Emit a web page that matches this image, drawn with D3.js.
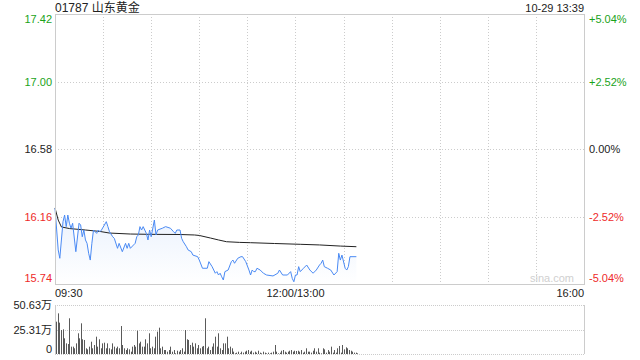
<!DOCTYPE html>
<html>
<head>
<meta charset="utf-8">
<script src="https://cdn.jsdelivr.net/npm/d3@7"></script>
<style>
  html, body { margin: 0; padding: 0; background: #fff; }
  svg text { font-family: Arial, "Liberation Sans", "Noto Sans CJK SC", sans-serif; }
</style>
</head>
<body>
<svg id="chart" width="640" height="360"></svg>
<script>
// quote info
var title = "01787 山东黄金";
var stamp = "10-29 13:39";
var prevClose = 16.58;
var priceTicks = [17.42, 17.00, 16.58, 16.16, 15.74];
var pctTicks = ["+5.04%", "+2.52%", "0.00%", "-2.52%", "-5.04%"];
var timeLabels = ["09:30", "12:00/13:00", "16:00"];
var volTicks = [50.63, 25.31, 0];
var volTickLabels = ["50.63万", "25.31万", "0"];

// minute price (minutes since 09:30, lunch removed)
var priceMin = [0,2,3,5,6,7,8,9,10,11,13,15,16,17,18,19,20,21,22,23,24,26,27,28,29,32,33,34,36,37,39,40,42,44,45,46,47,49,50,51,52,53,54,55,57,58,59,60,62,63,64,67,69,72,74,75,76,78,79,80,82,83,85,86,89,90,92,95,96,98,100,101,102,103,104,105,106,108,110,111,112,114,116,117,119,121,122,123,124,125,126,128,130,132,136,139,140,142,145,147,148,149,150,151,152,153,155,157,159,161,163,165,166,167,168,170,172,174,176,177,178,179,181,182,183,184,188];
var priceVal = [16.211,15.952,15.900,16.128,16.169,16.097,16.169,16.118,16.087,16.118,15.941,16.118,16.107,16.034,16.076,16.014,15.993,15.931,15.889,15.993,16.076,16.055,16.076,16.065,16.076,16.128,16.097,16.065,16.034,16.024,15.962,15.993,15.941,15.993,15.962,15.993,15.962,15.983,15.993,16.034,16.045,16.097,16.076,16.097,16.055,16.014,16.076,16.034,16.138,16.045,16.076,16.087,16.097,16.087,16.065,16.055,16.076,16.076,16.024,16.003,15.972,15.952,15.941,15.920,15.910,15.889,15.838,15.838,15.879,15.848,15.807,15.817,15.796,15.807,15.785,15.765,15.817,15.827,15.879,15.889,15.869,15.900,15.910,15.910,15.879,15.827,15.796,15.827,15.817,15.817,15.838,15.827,15.807,15.796,15.790,15.807,15.827,15.796,15.796,15.817,15.775,15.754,15.796,15.796,15.848,15.817,15.838,15.858,15.827,15.807,15.827,15.858,15.869,15.889,15.848,15.838,15.827,15.796,15.817,15.931,15.889,15.920,15.838,15.827,15.848,15.910,15.910];

// average price line
var avgMin = [0,2,4,9,19,28,34,47,59,78,87,90,97,102,107,115,122,137,153,165,178,188];
var avgVal = [16.213,16.138,16.095,16.085,16.076,16.067,16.057,16.051,16.049,16.048,16.045,16.042,16.026,16.014,16.003,15.999,15.997,15.992,15.987,15.983,15.976,15.972];

// volume bars, 万, read left to right from 09:30 to 13:38
var volumes = [33.4,42.0,32.4,24.8,25.5,16.2,11.0,10.3,36.9,7.6,7.6,5.9,11.0,21.4,16.2,31.7,15.2,14.5,5.9,4.8,7.6,12.7,5.9,9.3,17.9,7.6,15.2,5.9,11.0,11.7,5.9,11.0,5.9,4.8,11.0,7.6,5.9,7.6,5.9,28.9,9.3,5.9,4.1,5.9,4.8,2.4,7.6,9.3,7.6,24.1,11.0,12.7,7.6,7.6,15.2,11.0,21.4,5.9,7.6,5.9,17.9,23.1,27.2,5.9,7.6,4.1,4.1,2.4,4.1,7.6,2.4,4.1,0.7,3.4,2.4,4.1,5.9,2.4,24.8,15.2,14.5,9.3,11.7,7.6,11.0,5.9,9.3,5.9,7.6,8.3,36.9,5.9,7.6,4.1,7.6,11.0,17.9,7.6,21.4,5.9,4.1,
  11.0,11.0,17.9,5.9,7.6,5.9,2.4,0.7,1.4,2.4,0.7,2.4,1.4,2.4,3.4,4.1,2.4,3.4,1.4,2.4,1.4,3.4,1.4,0.7,2.4,1.4,0.7,1.4,0.7,1.4,2.4,9.3,2.4,0.7,1.4,3.4,4.1,2.4,1.4,2.4,3.4,4.1,2.4,3.4,3.1,3.4,2.4,4.1,1.4,2.4,5.9,2.4,2.4,1.4,3.4,5.9,2.4,5.9,1.4,0.7,5.9,4.8,1.4,4.1,2.4,7.6,1.4,4.1,1.4,5.9,8.3,1.4,9.3,4.8,6.9,5.9,4.1,3.4,2.4,1.4,1.4,0.7];
var lastMinute = 188;

var green = "#1aa31a", red = "#ee2a2a", grid = "#cccccc";
var plotL = 55, plotR = 584, plotT = 14, plotB = 284;
var volT = 305, volB = 354;

var svg = d3.select("#chart");

var x = d3.scaleLinear().domain([0, 330]).range([plotL, plotR]);
var y = d3.scaleLinear().domain([15.74, 17.42]).range([plotB, plotT]);
var yv = d3.scaleLinear().domain([0, 50.63]).range([volB, volT]);
// bar index -> minute
var barMin = d3.scaleLinear().domain([0, volumes.length - 1]).range([0, lastMinute]);

// header
svg.append("text").attr("x", plotL).attr("y", 12)
  .attr("font-size", 12).attr("fill", "#222").text(title);
svg.append("text").attr("x", plotR).attr("y", 12).attr("text-anchor", "end")
  .attr("font-size", 11).attr("fill", "#222").text(stamp);

// vertical grid, every 30 minutes
d3.range(30, 330, 30).forEach(function (m) {
  svg.append("line").attr("x1", Math.round(x(m)) + 0.5).attr("x2", Math.round(x(m)) + 0.5)
    .attr("y1", plotT).attr("y2", plotB)
    .attr("stroke", grid).attr("stroke-dasharray", "1,2");
});
// horizontal grid
priceTicks.slice(1, 4).forEach(function (p) {
  svg.append("line").attr("x1", plotL).attr("x2", plotR)
    .attr("y1", Math.round(y(p)) + 0.5).attr("y2", Math.round(y(p)) + 0.5)
    .attr("stroke", grid).attr("stroke-dasharray", "1,2");
});

// area + lines
var pts = priceMin.map(function (m, i) { return [m, priceVal[i]]; });
var area = d3.area().x(d => x(d[0])).y0(plotB).y1(d => y(d[1]));
var grad = svg.append("defs").append("linearGradient").attr("id", "fillGrad")
  .attr("x1", 0).attr("y1", 0).attr("x2", 0).attr("y2", 1);
grad.append("stop").attr("offset", "0%").attr("stop-color", "#e9f1fd");
grad.append("stop").attr("offset", "100%").attr("stop-color", "#ffffff");
svg.append("path").datum(pts).attr("d", area).attr("fill", "url(#fillGrad)");

var line = d3.line().x(d => x(d[0])).y(d => y(d[1]));
svg.append("path").datum(avgMin.map(function (m, i) { return [m, avgVal[i]]; }))
  .attr("d", line).attr("fill", "none").attr("stroke", "#222").attr("stroke-width", 1);
svg.append("path").datum(pts).attr("d", line)
  .attr("fill", "none").attr("stroke", "#4a8af4").attr("stroke-width", 1);

// frame
svg.append("rect").attr("x", plotL + 0.5).attr("y", plotT + 0.5)
  .attr("width", plotR - plotL).attr("height", plotB - plotT)
  .attr("fill", "none").attr("stroke", grid);

// watermark
svg.append("text").attr("x", 574).attr("y", 282).attr("text-anchor", "end")
  .attr("font-size", 11).attr("fill", "#d0d0d0").text("sina.com");

// price labels
priceTicks.forEach(function (p, i) {
  var c = p > prevClose ? green : (p < prevClose ? red : "#222");
  var ty = y(p) + 4;
  if (i == 0) ty = y(p) + 9;
  if (i == priceTicks.length - 1) ty = y(p) - 2;
  svg.append("text").attr("x", 52).attr("y", ty).attr("text-anchor", "end")
    .attr("font-size", 11).attr("fill", c).text(p.toFixed(2));
  svg.append("text").attr("x", 589).attr("y", ty)
    .attr("font-size", 11).attr("fill", c).text(pctTicks[i]);
});

// time labels
svg.append("text").attr("x", plotL).attr("y", 297).attr("font-size", 11).attr("fill", "#222").text(timeLabels[0]);
svg.append("text").attr("x", x(150)).attr("y", 297).attr("text-anchor", "middle").attr("font-size", 11).attr("fill", "#222").text(timeLabels[1]);
svg.append("text").attr("x", plotR).attr("y", 297).attr("text-anchor", "end").attr("font-size", 11).attr("fill", "#222").text(timeLabels[2]);

// volume panel
volTicks.forEach(function (v, i) {
  svg.append("line").attr("x1", plotL).attr("x2", plotR)
    .attr("y1", Math.round(yv(v)) + 0.5).attr("y2", Math.round(yv(v)) + 0.5)
    .attr("stroke", grid).attr("stroke-dasharray", "1,1");
  var ty = yv(v) + 4;
  if (i == volTicks.length - 1) ty = yv(v) - 1;
  svg.append("text").attr("x", 52).attr("y", ty).attr("text-anchor", "end")
    .attr("font-size", 11).attr("fill", "#222").text(volTickLabels[i]);
});
svg.append("line").attr("x1", plotL + 0.5).attr("x2", plotL + 0.5).attr("y1", volT).attr("y2", volB).attr("stroke", grid);
svg.append("line").attr("x1", plotR + 0.5).attr("x2", plotR + 0.5).attr("y1", volT).attr("y2", volB).attr("stroke", grid);

svg.append("g").selectAll("rect").data(volumes).enter().append("rect")
  .attr("x", (d, i) => Math.round(x(barMin(i))) + 1)
  .attr("y", d => yv(d))
  .attr("width", 1)
  .attr("height", d => volB - yv(d))
  .attr("fill", "#5a5a5a");
</script>
</body>
</html>
